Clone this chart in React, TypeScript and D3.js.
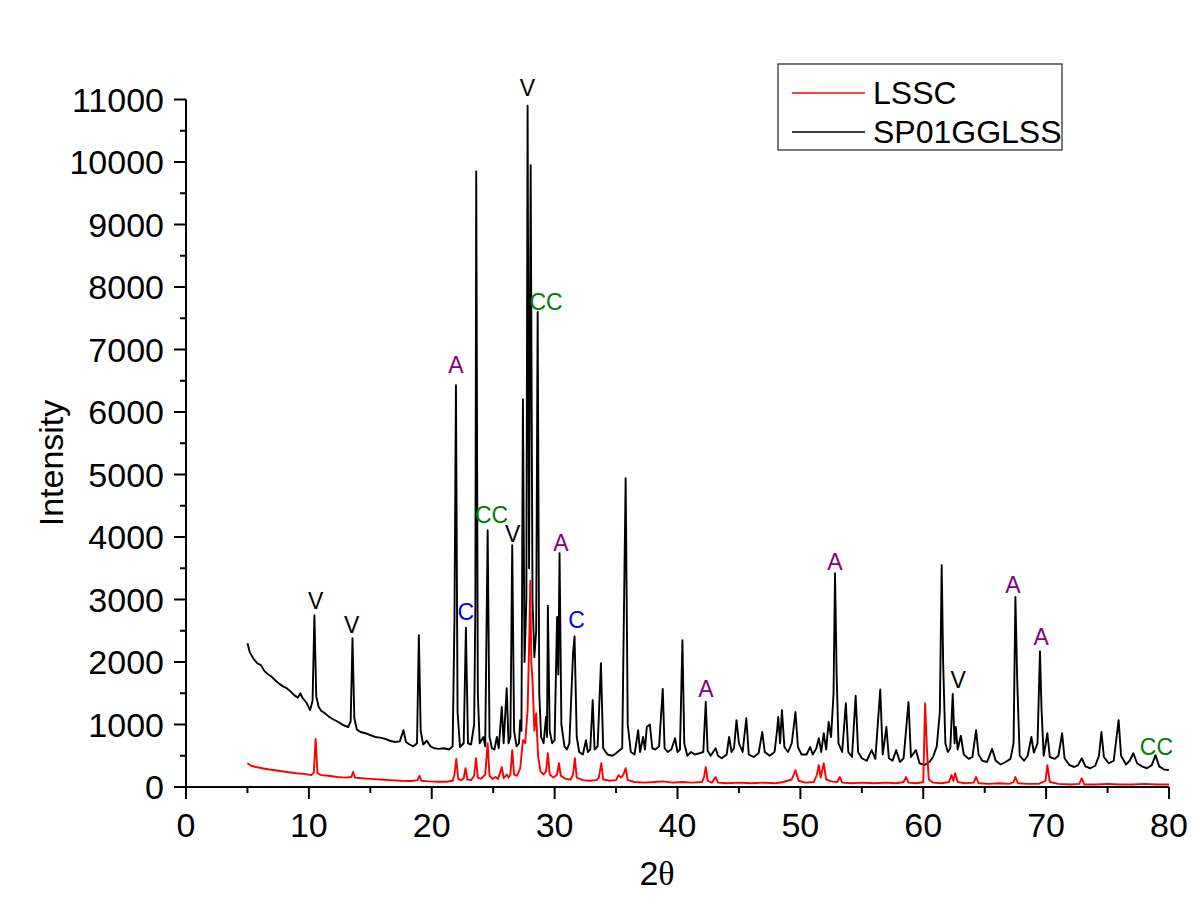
import React from 'react';
import * as d3 from 'd3';

// 2θ / intensity pairs
const blackSeries: [number, number][] = [
  [5.0, 2300], [5.2, 2150], [5.5, 2050], [5.8, 1980], [6.1, 1950], [6.4, 1850], [6.7, 1800],
  [7.0, 1760], [7.3, 1700], [7.6, 1650], [7.9, 1610], [8.2, 1580], [8.5, 1530], [8.8, 1470],
  [9.1, 1430], [9.3, 1500], [9.5, 1420], [9.8, 1350], [10.1, 1230], [10.3, 1380], [10.45, 2750],
  [10.6, 1450], [10.8, 1280], [11.0, 1220], [11.3, 1180], [11.6, 1130], [12.0, 1080], [12.4, 1040],
  [12.8, 990], [13.2, 960], [13.4, 1050], [13.55, 2380], [13.7, 1100], [13.9, 920], [14.2, 880],
  [14.6, 860], [15.0, 830], [15.4, 800], [15.8, 790], [16.2, 770], [16.6, 740], [17.0, 720],
  [17.4, 730], [17.7, 910], [17.9, 720], [18.2, 680], [18.5, 650], [18.8, 700], [18.95, 2430],
  [19.1, 900], [19.3, 680], [19.6, 740], [19.9, 650], [20.2, 620], [20.6, 610], [21.0, 620],
  [21.4, 600], [21.7, 650], [21.85, 2700], [21.97, 6430], [22.1, 1200], [22.3, 640], [22.6, 700],
  [22.78, 2550], [22.95, 700], [23.2, 680], [23.45, 1000], [23.55, 2900], [23.62, 9850], [23.75, 1500],
  [23.9, 700], [24.2, 800], [24.35, 650], [24.55, 4110], [24.7, 800], [24.9, 620], [25.1, 600],
  [25.3, 800], [25.45, 620], [25.7, 1280], [25.85, 700], [26.1, 1580], [26.25, 700], [26.4, 800],
  [26.55, 3870], [26.7, 900], [26.9, 650], [27.1, 700], [27.2, 1070], [27.3, 900], [27.42, 6200],
  [27.55, 2000], [27.7, 3000], [27.8, 10900], [27.92, 3500], [28.05, 9950], [28.2, 3000], [28.35, 2080],
  [28.5, 2500], [28.62, 7600], [28.75, 1500], [28.9, 800], [29.1, 700], [29.3, 1120], [29.38, 800],
  [29.45, 2900], [29.6, 900], [29.8, 700], [30.0, 750], [30.2, 2720], [30.3, 1800], [30.4, 3740],
  [30.55, 1000], [30.8, 650], [31.0, 600], [31.2, 700], [31.5, 2140], [31.62, 2410], [31.8, 800],
  [32.0, 560], [32.3, 520], [32.55, 750], [32.7, 560], [32.9, 600], [33.1, 1390], [33.25, 600],
  [33.5, 650], [33.77, 1980], [33.95, 620], [34.3, 520], [34.7, 500], [35.0, 540], [35.3, 590],
  [35.5, 620], [35.78, 4940], [35.95, 1000], [36.2, 560], [36.5, 520], [36.8, 910], [36.95, 560],
  [37.2, 800], [37.35, 600], [37.5, 960], [37.75, 1000], [37.95, 620], [38.2, 600], [38.5, 650],
  [38.8, 1570], [38.95, 620], [39.2, 560], [39.5, 600], [39.8, 780], [40.0, 560], [40.2, 600],
  [40.4, 2350], [40.55, 700], [40.8, 500], [41.1, 560], [41.4, 520], [41.8, 540], [42.1, 560],
  [42.3, 1360], [42.45, 580], [42.7, 500], [43.1, 620], [43.3, 500], [43.6, 460], [44.0, 520],
  [44.2, 800], [44.4, 560], [44.6, 620], [44.8, 1070], [45.0, 700], [45.3, 560], [45.6, 1100],
  [45.8, 520], [46.2, 480], [46.6, 540], [46.9, 880], [47.1, 560], [47.5, 500], [47.9, 560],
  [48.1, 900], [48.2, 1120], [48.35, 700], [48.5, 1230], [48.7, 640], [49.0, 560], [49.3, 700],
  [49.6, 1200], [49.8, 640], [50.1, 520], [50.5, 520], [50.8, 640], [51.0, 520], [51.3, 620],
  [51.5, 780], [51.7, 560], [51.9, 860], [52.1, 600], [52.3, 1040], [52.5, 800], [52.7, 1500],
  [52.82, 3420], [52.95, 1800], [53.1, 700], [53.4, 560], [53.7, 1340], [53.9, 560], [54.2, 480],
  [54.5, 1460], [54.7, 560], [55.0, 460], [55.4, 420], [55.8, 590], [56.1, 450], [56.5, 1560],
  [56.7, 520], [57.0, 960], [57.2, 460], [57.5, 420], [57.8, 590], [58.1, 400], [58.4, 460],
  [58.8, 1360], [59.0, 480], [59.4, 590], [59.7, 380], [60.1, 350], [60.5, 400], [60.8, 480],
  [61.1, 650], [61.35, 1200], [61.5, 3550], [61.62, 1980], [61.8, 700], [62.0, 560], [62.2, 620],
  [62.4, 1490], [62.55, 700], [62.65, 960], [62.8, 600], [63.06, 820], [63.3, 520], [63.7, 450],
  [64.0, 480], [64.3, 910], [64.5, 520], [64.8, 420], [65.2, 400], [65.6, 610], [65.9, 420],
  [66.3, 360], [66.7, 400], [67.1, 450], [67.35, 700], [67.5, 3040], [67.65, 1680], [67.85, 500],
  [68.2, 420], [68.5, 500], [68.8, 800], [69.0, 550], [69.3, 700], [69.5, 2170], [69.62, 1280],
  [69.8, 500], [70.1, 860], [70.3, 480], [70.7, 450], [71.0, 500], [71.3, 860], [71.5, 460],
  [71.9, 350], [72.3, 320], [72.6, 350], [72.9, 460], [73.2, 330], [73.6, 300], [74.0, 340],
  [74.3, 500], [74.5, 880], [74.7, 480], [75.1, 380], [75.5, 420], [75.9, 1070], [76.1, 500],
  [76.5, 360], [76.8, 420], [77.1, 540], [77.4, 380], [77.8, 330], [78.2, 300], [78.6, 350],
  [78.9, 510], [79.2, 330], [79.6, 280], [80.0, 270],
];

const redSeries: [number, number][] = [
  [5.0, 380], [5.3, 340], [5.7, 320], [6.2, 300], [6.8, 280], [7.5, 260], [8.2, 240], [9.0, 220],
  [9.6, 210], [10.2, 190], [10.4, 230], [10.55, 770], [10.7, 220], [11.0, 190], [11.6, 180],
  [12.3, 160], [13.0, 150], [13.45, 160], [13.6, 240], [13.75, 150], [14.3, 140], [15.0, 130],
  [15.8, 120], [16.6, 110], [17.5, 100], [18.3, 95], [18.85, 110], [19.0, 180], [19.15, 100],
  [19.8, 90], [20.5, 85], [21.2, 85], [21.7, 100], [21.85, 200], [22.0, 450], [22.15, 130],
  [22.4, 110], [22.6, 140], [22.75, 300], [22.9, 120], [23.2, 110], [23.45, 180], [23.6, 460],
  [23.75, 150], [24.0, 130], [24.35, 200], [24.55, 700], [24.7, 180], [24.95, 130], [25.2, 160],
  [25.4, 130], [25.7, 320], [25.85, 140], [26.1, 200], [26.25, 150], [26.4, 200], [26.55, 590],
  [26.7, 200], [26.95, 180], [27.2, 300], [27.42, 750], [27.6, 700], [27.8, 1230], [27.95, 2500],
  [28.02, 3300], [28.1, 2000], [28.2, 1710], [28.35, 900], [28.5, 1180], [28.65, 500], [28.85, 250],
  [29.1, 200], [29.3, 250], [29.45, 540], [29.6, 200], [29.9, 150], [30.2, 200], [30.35, 380],
  [30.5, 180], [30.9, 130], [31.3, 120], [31.5, 200], [31.65, 460], [31.8, 150], [32.3, 110],
  [32.8, 100], [33.4, 110], [33.6, 150], [33.8, 380], [33.95, 120], [34.5, 100], [35.0, 110],
  [35.2, 190], [35.4, 150], [35.6, 200], [35.78, 300], [35.95, 110], [36.5, 80], [37.3, 70],
  [38.1, 80], [38.8, 90], [39.6, 70], [40.4, 80], [41.2, 70], [42.0, 80], [42.15, 150], [42.3, 320],
  [42.45, 100], [42.8, 70], [43.1, 160], [43.3, 70], [44.0, 60], [45.0, 70], [46.0, 60], [47.0, 70],
  [48.0, 60], [48.6, 80], [49.3, 120], [49.6, 270], [49.85, 100], [50.4, 70], [51.1, 80],
  [51.35, 200], [51.5, 350], [51.65, 150], [51.9, 380], [52.1, 120], [52.5, 90], [53.0, 80],
  [53.2, 160], [53.4, 70], [54.2, 60], [55.0, 70], [56.0, 60], [57.0, 70], [57.8, 60], [58.4, 80],
  [58.6, 160], [58.8, 70], [59.5, 60], [60.0, 80], [60.15, 1340], [60.3, 590], [60.45, 120],
  [60.8, 70], [61.5, 60], [62.1, 80], [62.3, 190], [62.45, 100], [62.6, 220], [62.8, 80], [63.4, 60],
  [64.1, 70], [64.3, 160], [64.5, 60], [65.3, 50], [66.2, 60], [67.0, 50], [67.35, 80], [67.5, 160],
  [67.7, 60], [68.5, 50], [69.4, 50], [69.95, 100], [70.1, 350], [70.3, 80], [71.0, 50], [72.0, 40],
  [72.7, 50], [72.9, 140], [73.1, 40], [74.0, 40], [75.0, 50], [76.0, 40], [77.0, 40], [78.0, 50],
  [79.0, 40], [80.0, 40],
];

// phase markers: label, 2θ and intensity at the label baseline
const markerLabels = ['V', 'V', 'A', 'C', 'CC', 'V', 'V', 'CC', 'A', 'C', 'A', 'A', 'V', 'A', 'A', 'CC'];
const markerX = [10.55, 13.48, 21.97, 22.78, 24.87, 26.58, 27.78, 29.3, 30.51, 31.79, 42.31, 52.81, 62.84, 67.3, 69.6, 78.98];
const markerY = [2846, 2460, 6630, 2680, 4220, 3920, 11060, 7640, 3770, 2540, 1440, 3470, 1580, 3100, 2270, 510];
const phaseColors: Record<string, string> = { V: '#000000', A: '#800080', C: '#0000ff', CC: '#008000' };

const seriesNames = ['LSSC', 'SP01GGLSS'];
const seriesColors = ['#ff0000', '#000000'];

const xTicks = [0, 10, 20, 30, 40, 50, 60, 70, 80];
const yTicks = [0, 1000, 2000, 3000, 4000, 5000, 6000, 7000, 8000, 9000, 10000, 11000];

const W = 1203;
const H = 915;
const FONT = 'Arial, "Liberation Sans", sans-serif';

export default function App() {
  const x = d3.scaleLinear().domain([0, 80]).range([186, 1169]);
  const y = d3.scaleLinear().domain([0, 11000]).range([787, 99.5]);

  const line = d3.line<[number, number]>()
    .x(d => x(d[0]))
    .y(d => y(d[1]));

  const xMinor = d3.range(0, 81, 5).filter(v => v % 10 !== 0);
  const yMinor = d3.range(500, 11000, 1000);

  return (
    <svg width={W} height={H} style={{ position: 'absolute', left: 0, top: 0, background: '#fff' }}
      fontFamily={FONT}>
      <rect width={W} height={H} fill="#fff" />

      {/* series */}
      <path d={line(blackSeries) || ''} fill="none" stroke={seriesColors[1]} strokeWidth={1.9} strokeLinejoin="round" />
      <path d={line(redSeries) || ''} fill="none" stroke={seriesColors[0]} strokeWidth={1.9} strokeLinejoin="round" />

      {/* axes */}
      <g stroke="#000" strokeWidth={2}>
        <line x1={x(0)} x2={x(80)} y1={y(0)} y2={y(0)} />
        <line x1={x(0)} x2={x(0)} y1={y(0)} y2={y(11000)} />
        {xTicks.map(t => <line key={'xt' + t} x1={x(t)} x2={x(t)} y1={y(0)} y2={y(0) + 12} />)}
        {xMinor.map(t => <line key={'xm' + t} x1={x(t)} x2={x(t)} y1={y(0)} y2={y(0) + 6} />)}
        {yTicks.map(t => <line key={'yt' + t} x1={x(0) - 12} x2={x(0)} y1={y(t)} y2={y(t)} />)}
        {yMinor.map(t => <line key={'ym' + t} x1={x(0) - 6} x2={x(0)} y1={y(t)} y2={y(t)} />)}
      </g>
      <g fontSize={34} fill="#000">
        {xTicks.map(t => (
          <text key={'xl' + t} x={x(t)} y={y(0) + 50} textAnchor="middle">{t}</text>
        ))}
        {yTicks.map(t => (
          <text key={'yl' + t} x={x(0) - 22} y={y(t) + 12} textAnchor="end">{t}</text>
        ))}
      </g>
      <text x={657} y={885} fontSize={34} textAnchor="middle">
        2<tspan fontFamily='"Liberation Serif", "Times New Roman", serif'>θ</tspan>
      </text>
      <text transform={`translate(63, 463) rotate(-90)`} fontSize={34} textAnchor="middle">Intensity</text>

      {/* phase labels */}
      <g fontSize={23} textAnchor="middle">
        {markerLabels.map((lab, i) => (
          <text key={'m' + i} x={x(markerX[i])} y={y(markerY[i])} fill={phaseColors[lab]}>{lab}</text>
        ))}
      </g>

      {/* legend */}
      <rect x={778} y={64} width={284} height={86} fill="none" stroke="#222" strokeWidth={1.2} />
      {seriesNames.map((name, i) => (
        <g key={name}>
          <line x1={792} x2={865} y1={93 + i * 39} y2={93 + i * 39} stroke={seriesColors[i]} strokeWidth={1.7} />
          <text x={873} y={104 + i * 39} fontSize={32}>{name}</text>
        </g>
      ))}
    </svg>
  );
}
